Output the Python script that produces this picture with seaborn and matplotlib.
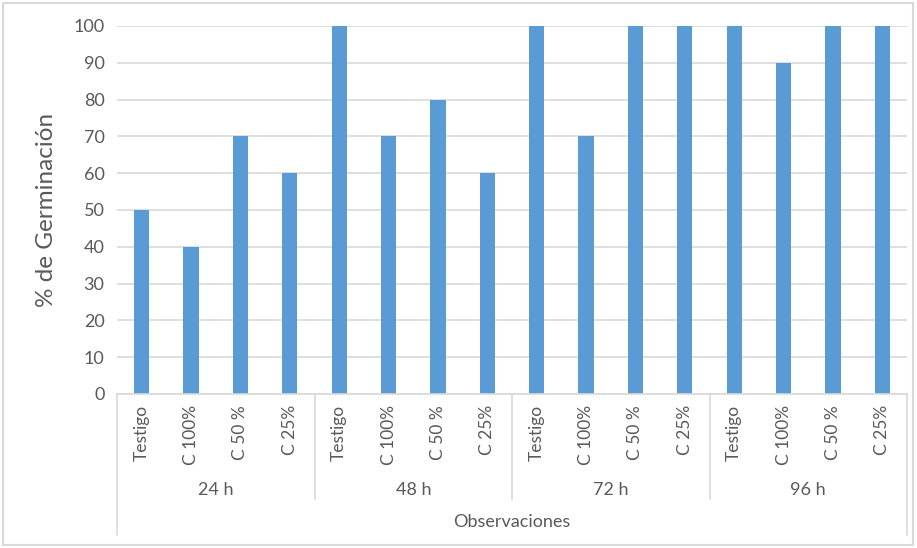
import matplotlib
matplotlib.use("Agg")
import matplotlib.pyplot as plt
import matplotlib.transforms as mtransforms
from matplotlib.patches import Rectangle
from matplotlib.lines import Line2D
import seaborn as sns
import pandas as pd

groups = ["24 h", "48 h", "72 h", "96 h"]
treatments = ["Testigo", "C 100%", "C 50 %", "C 25%"]
values_24 = [50, 40, 70, 60]
values_48 = [100, 70, 80, 60]
values_72 = [100, 70, 100, 100]
values_96 = [100, 90, 100, 100]
y_ticks = [0, 10, 20, 30, 40, 50, 60, 70, 80, 90, 100]
x_title = "Observaciones"
y_title = "% de Germinación"

all_vals = [values_24, values_48, values_72, values_96]
rows = []
for g, vals in zip(groups, all_vals):
    for t, v in zip(treatments, vals):
        rows.append({"key": f"{g}|{t}", "group": g, "treat": t, "val": v})
df = pd.DataFrame(rows)

sns.set_theme(style="white")
plt.rcParams["font.family"] = ["Lato", "DejaVu Sans"]
txt = "#595959"
grid = "#d9d9d9"
barc = "#5b9bd5"

fig = plt.figure(figsize=(9.17, 5.48), dpi=100)
ax = fig.add_axes([117/917, 1-394/548, (907-117)/917, (394-26)/548])

sns.barplot(data=df, x="key", y="val", color=barc, width=0.31, ax=ax,
            saturation=1, order=list(df["key"]), linewidth=0)

ax.set_ylim(0, 100)
ax.set_xlim(-0.5, len(df) - 0.5)
ax.set_yticks(y_ticks)
ax.set_yticklabels([str(v) for v in y_ticks], fontsize=13, color=txt)
ax.yaxis.grid(True, color=grid, linewidth=1.2)
ax.set_axisbelow(True)
ax.tick_params(axis="y", length=0, pad=9)
ax.set_xticks(range(len(df)))
ax.set_xticklabels(df["treat"], rotation=90, fontsize=12.5, color=txt)
ax.tick_params(axis="x", length=0, pad=8)
ax.set_xlabel("")
ax.set_ylabel(y_title, fontsize=17.5, color=txt, labelpad=12)
for s in ["top", "right", "left"]:
    ax.spines[s].set_visible(False)
ax.spines["bottom"].set_color(grid)
ax.spines["bottom"].set_linewidth(1.2)

trans = mtransforms.blended_transform_factory(ax.transData, ax.transAxes)
n = len(treatments)
for i in range(len(groups) + 1):
    xb = i * n - 0.5
    ybot = -141/368 if i in (0, len(groups)) else -105/368
    ax.add_line(Line2D([xb, xb], [0, ybot], transform=trans, color=grid,
                       linewidth=1.2, clip_on=False))
for i, g in enumerate(groups):
    ax.text(i * n + (n - 1) / 2, -96/368, g, transform=trans, ha="center",
            va="center", fontsize=13, color=txt)
ax.text((len(df) - 1) / 2, -128/368, x_title, transform=trans, ha="center",
        va="center", fontsize=13, color=txt)

fig.patches.append(Rectangle((3/917, 3/548), 910/917, 542/548,
                             transform=fig.transFigure, fill=False,
                             edgecolor=grid, linewidth=1.5))

fig.savefig("out.png", dpi=100)
